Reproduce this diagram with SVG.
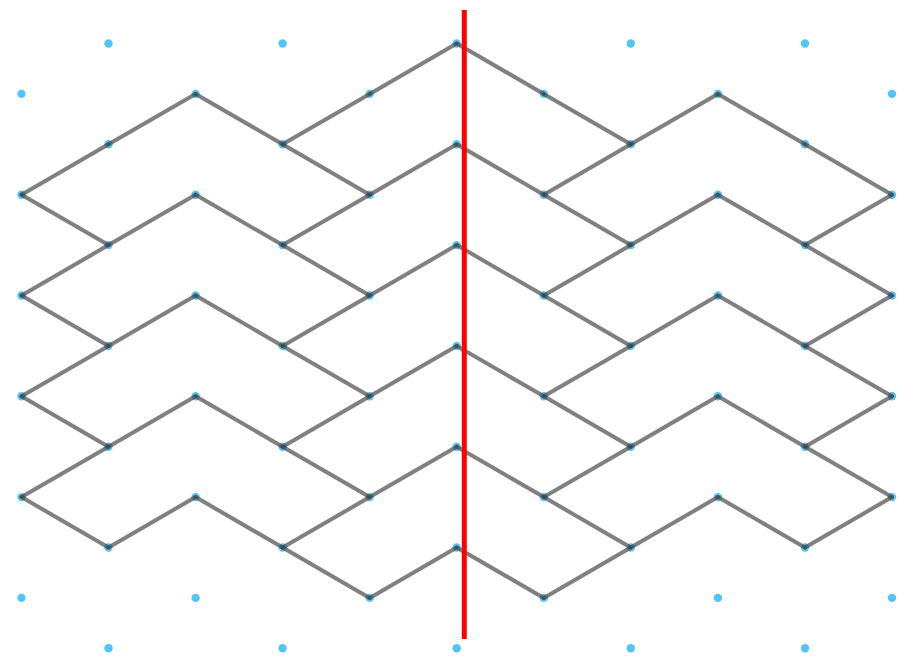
<svg xmlns="http://www.w3.org/2000/svg" width="899" height="657" viewBox="0 0 899 657">
<style>
.dot{fill:#52c4f6}
.ln{stroke:#444444;stroke-opacity:0.68;stroke-width:4;stroke-linecap:round;fill:none}
.axis{stroke:#ff0000;stroke-width:5}
</style>
<defs><circle id="d" class="dot" r="4.2"/></defs>
<rect width="899" height="657" fill="#ffffff"/>
<g id="nodes">
<g id="r0"><use href="#d" x="108.5" y="43.5"/><use href="#d" x="282.6" y="43.5"/><use href="#d" x="456.7" y="43.5"/><use href="#d" x="630.8" y="43.5"/><use href="#d" x="805" y="43.5"/></g>
<g id="r1"><use href="#d" x="21.5" y="93.9"/><use href="#d" x="195.6" y="93.9"/><use href="#d" x="369.7" y="93.9"/><use href="#d" x="543.8" y="93.9"/><use href="#d" x="717.9" y="93.9"/><use href="#d" x="892" y="93.9"/></g>
<g id="r2"><use href="#d" x="108.5" y="144.3"/><use href="#d" x="282.6" y="144.3"/><use href="#d" x="456.7" y="144.3"/><use href="#d" x="630.8" y="144.3"/><use href="#d" x="805" y="144.3"/></g>
<g id="r3"><use href="#d" x="21.5" y="194.7"/><use href="#d" x="195.6" y="194.7"/><use href="#d" x="369.7" y="194.7"/><use href="#d" x="543.8" y="194.7"/><use href="#d" x="717.9" y="194.7"/><use href="#d" x="892" y="194.7"/></g>
<g id="r4"><use href="#d" x="108.5" y="245.1"/><use href="#d" x="282.6" y="245.1"/><use href="#d" x="456.7" y="245.1"/><use href="#d" x="630.8" y="245.1"/><use href="#d" x="805" y="245.1"/></g>
<g id="r5"><use href="#d" x="21.5" y="295.5"/><use href="#d" x="195.6" y="295.5"/><use href="#d" x="369.7" y="295.5"/><use href="#d" x="543.8" y="295.5"/><use href="#d" x="717.9" y="295.5"/><use href="#d" x="892" y="295.5"/></g>
<g id="r6"><use href="#d" x="108.5" y="345.9"/><use href="#d" x="282.6" y="345.9"/><use href="#d" x="456.7" y="345.9"/><use href="#d" x="630.8" y="345.9"/><use href="#d" x="805" y="345.9"/></g>
<g id="r7"><use href="#d" x="21.5" y="396.3"/><use href="#d" x="195.6" y="396.3"/><use href="#d" x="369.7" y="396.3"/><use href="#d" x="543.8" y="396.3"/><use href="#d" x="717.9" y="396.3"/><use href="#d" x="892" y="396.3"/></g>
<g id="r8"><use href="#d" x="108.5" y="446.7"/><use href="#d" x="282.6" y="446.7"/><use href="#d" x="456.7" y="446.7"/><use href="#d" x="630.8" y="446.7"/><use href="#d" x="805" y="446.7"/></g>
<g id="r9"><use href="#d" x="21.5" y="497.1"/><use href="#d" x="195.6" y="497.1"/><use href="#d" x="369.7" y="497.1"/><use href="#d" x="543.8" y="497.1"/><use href="#d" x="717.9" y="497.1"/><use href="#d" x="892" y="497.1"/></g>
<g id="r10"><use href="#d" x="108.5" y="547.5"/><use href="#d" x="282.6" y="547.5"/><use href="#d" x="456.7" y="547.5"/><use href="#d" x="630.8" y="547.5"/><use href="#d" x="805" y="547.5"/></g>
<g id="r11"><use href="#d" x="21.5" y="597.9"/><use href="#d" x="195.6" y="597.9"/><use href="#d" x="369.7" y="597.9"/><use href="#d" x="543.8" y="597.9"/><use href="#d" x="717.9" y="597.9"/><use href="#d" x="892" y="597.9"/></g>
<g id="r12"><use href="#d" x="108.5" y="648.3"/><use href="#d" x="282.6" y="648.3"/><use href="#d" x="456.7" y="648.3"/><use href="#d" x="630.8" y="648.3"/><use href="#d" x="805" y="648.3"/></g>
</g>
<g id="connectors" class="ln">
<line x1="456.7" y1="43.5" x2="369.7" y2="93.9"/>
<line x1="369.7" y1="93.9" x2="282.6" y2="144.3"/>
<line x1="282.6" y1="144.3" x2="195.6" y2="93.9"/>
<line x1="195.6" y1="93.9" x2="108.5" y2="144.3"/>
<line x1="108.5" y1="144.3" x2="21.5" y2="194.7"/>
<line x1="282.6" y1="144.3" x2="369.7" y2="194.7"/>
<line x1="369.7" y1="194.7" x2="456.7" y2="144.3"/>
<line x1="21.5" y1="194.7" x2="108.5" y2="245.1"/>
<line x1="108.5" y1="245.1" x2="195.6" y2="194.7"/>
<line x1="195.6" y1="194.7" x2="282.6" y2="245.1"/>
<line x1="369.7" y1="194.7" x2="282.6" y2="245.1"/>
<line x1="282.6" y1="245.1" x2="369.7" y2="295.5"/>
<line x1="369.7" y1="295.5" x2="456.7" y2="245.1"/>
<line x1="108.5" y1="245.1" x2="21.5" y2="295.5"/>
<line x1="21.5" y1="295.5" x2="108.5" y2="345.9"/>
<line x1="108.5" y1="345.9" x2="195.6" y2="295.5"/>
<line x1="195.6" y1="295.5" x2="282.6" y2="345.9"/>
<line x1="282.6" y1="345.9" x2="369.7" y2="295.5"/>
<line x1="108.5" y1="345.9" x2="21.5" y2="396.3"/>
<line x1="282.6" y1="345.9" x2="369.7" y2="396.3"/>
<line x1="369.7" y1="396.3" x2="456.7" y2="345.9"/>
<line x1="21.5" y1="396.3" x2="108.5" y2="446.7"/>
<line x1="108.5" y1="446.7" x2="195.6" y2="396.3"/>
<line x1="195.6" y1="396.3" x2="282.6" y2="446.7"/>
<line x1="282.6" y1="446.7" x2="369.7" y2="396.3"/>
<line x1="108.5" y1="446.7" x2="21.5" y2="497.1"/>
<line x1="282.6" y1="446.7" x2="369.7" y2="497.1"/>
<line x1="369.7" y1="497.1" x2="456.7" y2="446.7"/>
<line x1="21.5" y1="497.1" x2="108.5" y2="547.5"/>
<line x1="108.5" y1="547.5" x2="195.6" y2="497.1"/>
<line x1="195.6" y1="497.1" x2="282.6" y2="547.5"/>
<line x1="282.6" y1="547.5" x2="369.7" y2="497.1"/>
<line x1="282.6" y1="547.5" x2="369.7" y2="597.9"/>
<line x1="369.7" y1="597.9" x2="456.7" y2="547.5"/>
<line x1="456.7" y1="43.5" x2="543.8" y2="93.9"/>
<line x1="543.8" y1="93.9" x2="630.8" y2="144.3"/>
<line x1="630.8" y1="144.3" x2="717.9" y2="93.9"/>
<line x1="630.8" y1="144.3" x2="543.8" y2="194.7"/>
<line x1="717.9" y1="93.9" x2="805" y2="144.3"/>
<line x1="805" y1="144.3" x2="892" y2="194.7"/>
<line x1="456.7" y1="144.3" x2="543.8" y2="194.7"/>
<line x1="543.8" y1="194.7" x2="630.8" y2="245.1"/>
<line x1="630.8" y1="245.1" x2="717.9" y2="194.7"/>
<line x1="630.8" y1="245.1" x2="543.8" y2="295.5"/>
<line x1="717.9" y1="194.7" x2="805" y2="245.1"/>
<line x1="892" y1="194.7" x2="805" y2="245.1"/>
<line x1="805" y1="245.1" x2="892" y2="295.5"/>
<line x1="456.7" y1="245.1" x2="543.8" y2="295.5"/>
<line x1="543.8" y1="295.5" x2="630.8" y2="345.9"/>
<line x1="630.8" y1="345.9" x2="717.9" y2="295.5"/>
<line x1="630.8" y1="345.9" x2="543.8" y2="396.3"/>
<line x1="717.9" y1="295.5" x2="805" y2="345.9"/>
<line x1="805" y1="345.9" x2="892" y2="295.5"/>
<line x1="805" y1="345.9" x2="892" y2="396.3"/>
<line x1="456.7" y1="345.9" x2="543.8" y2="396.3"/>
<line x1="543.8" y1="396.3" x2="630.8" y2="446.7"/>
<line x1="630.8" y1="446.7" x2="717.9" y2="396.3"/>
<line x1="630.8" y1="446.7" x2="543.8" y2="497.1"/>
<line x1="717.9" y1="396.3" x2="805" y2="446.7"/>
<line x1="892" y1="396.3" x2="805" y2="446.7"/>
<line x1="805" y1="446.7" x2="892" y2="497.1"/>
<line x1="456.7" y1="446.7" x2="543.8" y2="497.1"/>
<line x1="543.8" y1="497.1" x2="630.8" y2="547.5"/>
<line x1="630.8" y1="547.5" x2="717.9" y2="497.1"/>
<line x1="630.8" y1="547.5" x2="543.8" y2="597.9"/>
<line x1="717.9" y1="497.1" x2="805" y2="547.5"/>
<line x1="892" y1="497.1" x2="805" y2="547.5"/>
<line x1="456.7" y1="547.5" x2="543.8" y2="597.9"/>
</g>
<line id="mirror" class="axis" x1="464.3" y1="10" x2="464.3" y2="639"/>
</svg>
